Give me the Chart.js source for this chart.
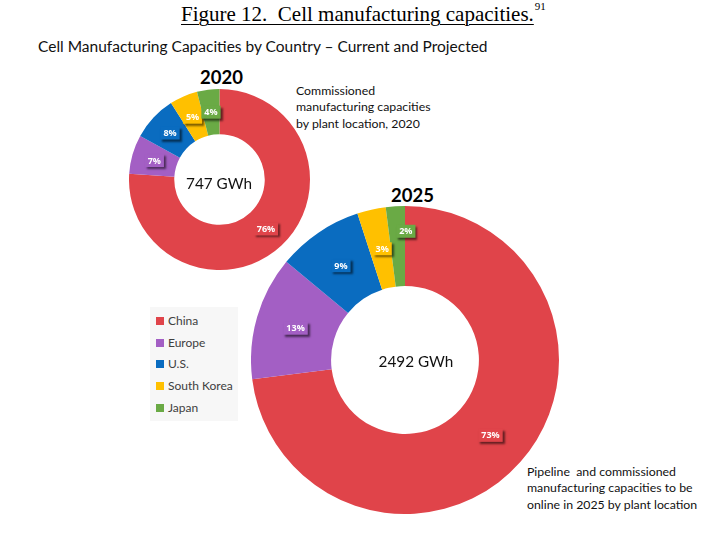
<!DOCTYPE html>
<html>
<head>
<meta charset="utf-8">
<script src="https://cdn.jsdelivr.net/npm/chart.js@4.4.1/dist/chart.umd.min.js"></script>
<style>
  html, body { margin:0; padding:0; background:#fff; }
  body { width:721px; height:542px; position:relative; overflow:hidden; font-family:"Lato","Open Sans",sans-serif; color:#000; }
  .abs { position:absolute; white-space:nowrap; }
  #fig { left:181px; top:2px; font-family:"Liberation Serif","DejaVu Serif",serif; font-size:21px; text-decoration:underline; text-decoration-thickness:1px; text-underline-offset:3px; }
  #fig sup { font-size:11px; vertical-align:top; position:relative; top:-2px; text-decoration:none; display:inline-block; margin-left:1px; }
  #sub { left:38px; top:37px; font-size:15.5px; color:#111; }
  .year { font-weight:bold; font-size:18.5px; }
  .note { font-size:12.3px; line-height:16.3px; color:#111; }
  .center { font-size:15.3px; color:#111; transform:translate(-50%,-50%); }
  canvas { position:absolute; }
  #legend { left:150px; top:307px; width:88px; height:114px; background:#f7f7f7; }
  .li { position:absolute; left:6px; font-size:12px; color:#404040; }
  .sw { display:inline-block; width:8px; height:8px; margin-right:4px; vertical-align:0px; }
</style>
</head>
<body>
<div id="fig" class="abs">Figure 12.&nbsp; Cell manufacturing capacities.<sup>91</sup></div>
<div id="sub" class="abs">Cell Manufacturing Capacities by Country – Current and Projected</div>
<div id="y2020" class="abs year" style="left:200px;top:66px;">2020</div>
<div id="y2025" class="abs year" style="left:391px;top:184px;">2025</div>
<div class="abs note" style="left:296px;top:83px;">Commissioned<br>manufacturing capacities<br>by plant location, 2020</div>
<div class="abs note" style="left:527px;top:464px;">Pipeline&nbsp; and commissioned<br>manufacturing capacities to be<br>online in 2025 by plant location</div>
<canvas id="c2020" style="left:129px;top:89px;" width="181" height="181"></canvas>
<canvas id="c2025" style="left:251px;top:206px;" width="308" height="308"></canvas>
<div id="t2020" class="abs center" style="left:219px;top:183px;"></div>
<div id="t2025" class="abs center" style="left:416px;top:361px;"></div>
<div id="legend" class="abs"></div>
<script>
const countries = ["China", "Europe", "U.S.", "South Korea", "Japan"];
const share2020 = [76, 7, 8, 5, 4];
const share2025 = [73, 13, 9, 3, 2];
const total2020 = "747 GWh";
const total2025 = "2492 GWh";
const colors = ["#e0444a", "#a35fc4", "#0a6cc0", "#ffc000", "#6aaa45"];

document.getElementById('t2020').textContent = total2020;
document.getElementById('t2025').textContent = total2025;

const legend = document.getElementById('legend');
countries.forEach((c, i) => {
  const d = document.createElement('div');
  d.className = 'li';
  d.style.top = (6 + i * 21.7) + 'px';
  d.innerHTML = '<span class="sw" style="background:' + colors[i] + '"></span>' + c;
  legend.appendChild(d);
});

// per-chart label nudges (pixels) applied to the arc-centre label positions
const labelNudge = { c2020: [[0,0],[0,0],[0,0],[0,0],[0,0]], c2025: [[0,0],[0,0],[0,0],[2,0],[8,-15]] };

const labelPlugin = {
  id: 'pctLabels',
  afterDatasetsDraw(chart) {
    const ctx = chart.ctx;
    const meta = chart.getDatasetMeta(0);
    const data = chart.data.datasets[0].data;
    const nudge = labelNudge[chart.canvas.id];
    meta.data.forEach((arc, i) => {
      const p = arc.tooltipPosition();
      const x = p.x + nudge[i][0], y = p.y + nudge[i][1];
      const txt = data[i] + '%';
      ctx.save();
      ctx.font = 'bold 9px "Open Sans", sans-serif';
      const w = ctx.measureText(txt).width + 6;
      const h = 13;
      ctx.shadowColor = 'rgba(0,0,0,0.55)';
      ctx.shadowOffsetX = 2;
      ctx.shadowOffsetY = 2;
      ctx.shadowBlur = 2;
      ctx.fillStyle = colors[i];
      ctx.fillRect(x - w / 2, y - h / 2, w, h);
      ctx.shadowColor = 'transparent';
      ctx.fillStyle = '#fff';
      ctx.textAlign = 'center';
      ctx.textBaseline = 'middle';
      ctx.fillText(txt, x, y + 0.5);
      ctx.restore();
    });
  }
};

function makeDonut(id, values, cutout) {
  new Chart(document.getElementById(id), {
    type: 'doughnut',
    data: { labels: countries, datasets: [{ data: values, backgroundColor: colors, borderWidth: 0 }] },
    options: {
      responsive: false,
      animation: false,
      cutout: cutout,
      layout: { padding: 0 },
      plugins: { legend: { display: false }, tooltip: { enabled: false } }
    },
    plugins: [labelPlugin]
  });
}
makeDonut('c2020', share2020, '50%');
makeDonut('c2025', share2025, '48%');
</script>
</body>
</html>
